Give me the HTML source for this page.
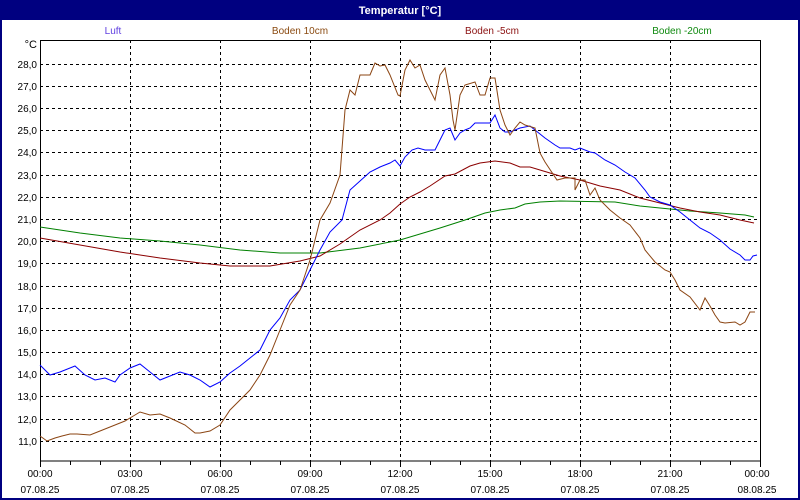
<!DOCTYPE html>
<html><head><meta charset="utf-8"><style>
body{margin:0;background:#fff}
svg{display:block}
text{font-family:"Liberation Sans",sans-serif;font-size:10px}
</style></head><body>
<svg width="800" height="500" viewBox="0 0 800 500">
<rect x="0" y="0" width="800" height="500" fill="#000080"/>
<rect x="2" y="20" width="796" height="478" fill="#fff"/>
<text x="400" y="14" fill="#fff" font-weight="bold" text-anchor="middle" style="font-size:11px">Temperatur [°C]</text>
<text x="113" y="34" fill="#6040e0" text-anchor="middle">Luft</text>
<text x="300" y="34" fill="#8a4a10" text-anchor="middle">Boden 10cm</text>
<text x="492" y="34" fill="#8b1010" text-anchor="middle">Boden -5cm</text>
<text x="682" y="34" fill="#108a10" text-anchor="middle">Boden -20cm</text>
<text x="37" y="48" text-anchor="end" style="font-size:11px">°C</text>
<g stroke="#000" stroke-dasharray="3,3" stroke-width="1">
<path d="M40 64.5H760M40 86.5H760M40 108.5H760M40 130.5H760M40 152.5H760M40 175.5H760M40 197.5H760M40 219.5H760M40 241.5H760M40 263.5H760M40 286.5H760M40 308.5H760M40 330.5H760M40 352.5H760M40 374.5H760M40 396.5H760M40 419.5H760M40 441.5H760"/>
<path d="M130.5 40V461M220.5 40V461M310.5 40V461M400.5 40V461M490.5 40V461M580.5 40V461M670.5 40V461"/>
</g>
<rect x="40.5" y="40.5" width="720" height="420.5" fill="none" stroke="#000"/>
<g stroke="#000"><path d="M40.5 461v6M70.5 461v4M100.5 461v4M130.5 461v6M160.5 461v4M190.5 461v4M220.5 461v6M250.5 461v4M280.5 461v4M310.5 461v6M340.5 461v4M370.5 461v4M400.5 461v6M430.5 461v4M460.5 461v4M490.5 461v6M520.5 461v4M550.5 461v4M580.5 461v6M610.5 461v4M640.5 461v4M670.5 461v6M700.5 461v4M730.5 461v4M760.5 461v6"/></g>
<g text-anchor="end">
<text x="37" y="68">28,0</text><text x="37" y="90">27,0</text><text x="37" y="112">26,0</text><text x="37" y="134">25,0</text><text x="37" y="156">24,0</text><text x="37" y="179">23,0</text><text x="37" y="201">22,0</text><text x="37" y="223">21,0</text><text x="37" y="245">20,0</text><text x="37" y="267">19,0</text><text x="37" y="290">18,0</text><text x="37" y="312">17,0</text><text x="37" y="334">16,0</text><text x="37" y="356">15,0</text><text x="37" y="378">14,0</text><text x="37" y="400">13,0</text><text x="37" y="423">12,0</text><text x="37" y="445">11,0</text>
</g>
<g text-anchor="middle">
<text x="40" y="477">00:00</text><text x="40" y="493">07.08.25</text>
<text x="130" y="477">03:00</text><text x="130" y="493">07.08.25</text>
<text x="220" y="477">06:00</text><text x="220" y="493">07.08.25</text>
<text x="310" y="477">09:00</text><text x="310" y="493">07.08.25</text>
<text x="400" y="477">12:00</text><text x="400" y="493">07.08.25</text>
<text x="490" y="477">15:00</text><text x="490" y="493">07.08.25</text>
<text x="580" y="477">18:00</text><text x="580" y="493">07.08.25</text>
<text x="670" y="477">21:00</text><text x="670" y="493">07.08.25</text>
<text x="757" y="477">00:00</text><text x="757" y="493">08.08.25</text>
</g>
<g fill="none" stroke-width="1">
<polyline stroke="#008000" points="40,227 80,233 120,238 160,241 200,245 240,250 280,253 320,253 360,248 400,240 440,228 465,220 485,213 500,210 515,208 525,204 540,202 560,201 615,202 640,206 660,208 690,211 720,213 745,215 754,217"/>
<polyline stroke="#8b0000" points="40,238 80,245 120,252 160,258 200,263 230,266 270,266 300,261 320,256 340,244 360,230 380,220 390,213 400,204 410,197 420,192 430,186 445,176 455,174 470,166 480,163 495,161 510,163 520,167 530,167 540,170 560,176 580,180 600,186 620,190 640,198 660,203 680,208 700,212 720,215 740,220 754,223"/>
<polyline stroke="#0000ff" points="40,365 50,375 60,372 70,368 75,366 85,375 95,380 105,378 115,382 120,375 130,368 140,364 150,372 160,380 170,376 180,372 190,375 200,380 210,387 220,382 230,373 240,366 250,358 260,350 270,330 280,318 290,300 300,290 310,270 320,250 330,232 342,220 350,190 360,181 370,172 380,167 390,163 395,160 400,166 405,157 412,150 418,148 425,150 435,150 440,140 445,130 450,128 455,140 460,133 465,130 470,128 475,123 490,123 495,115 500,128 505,132 510,132 520,128 530,126 535,130 545,138 555,145 560,148 570,148 575,150 580,148 590,152 595,153 605,160 615,165 625,172 635,178 645,190 650,197 660,202 670,205 680,212 690,220 700,228 710,233 720,240 730,249 740,255 745,260 750,260 753,256 757,255"/>
<polyline stroke="#8b4513" points="40,436 47,441 55,438 62,436 70,434 77,434 90,435 100,431 115,425 125,421 135,415 140,412 150,415 160,414 170,418 185,425 195,433 200,433 210,431 220,425 230,410 240,400 250,390 260,375 270,355 280,330 290,305 300,290 310,260 320,220 330,203 340,175 345,110 350,90 355,95 360,75 370,75 375,63 380,66 385,65 390,75 398,95 400,96 405,70 410,60 415,68 420,65 425,80 435,100 440,75 445,68 450,95 453,120 455,130 460,95 465,85 475,82 480,95 485,95 490,78 495,78 500,110 505,125 510,135 515,128 520,122 525,125 535,128 540,153 545,162 557,180 565,178 575,178 575,190 580,180 585,180 590,195 595,188 600,200 610,210 620,218 630,225 640,238 645,250 655,262 665,270 670,272 675,280 680,290 690,297 700,310 705,298 710,306 715,315 720,322 725,323 735,322 740,325 745,322 750,312 755,312"/>
</g>
</svg>
</body></html>
